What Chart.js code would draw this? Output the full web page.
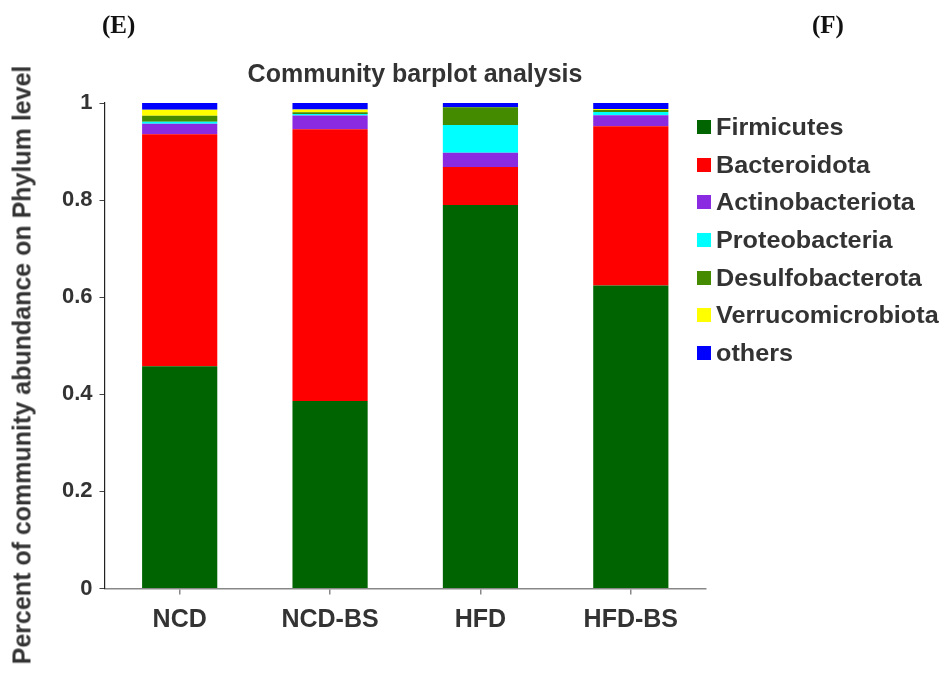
<!DOCTYPE html>
<html>
<head>
<meta charset="utf-8">
<script src="https://cdn.jsdelivr.net/npm/chart.js@4"></script>
<style>
  html, body { margin: 0; padding: 0; background: #fff; }
  #wrap { position: relative; width: 946px; height: 675px; overflow: hidden; }
  #c { position: absolute; left: 0; top: 0; }
  .panel { position: absolute; font-family: "Liberation Serif", "Times New Roman", serif; font-weight: bold; font-size: 25px; color: #111; line-height: 1; }
  #title { position: absolute; left: 415px; top: 73px; transform: translate(-50%, -50%); font-family: "Liberation Sans", Arial, sans-serif; font-weight: bold; font-size: 25px; color: #333; white-space: nowrap; }
  #ytitle { position: absolute; left: 22px; top: 365px; transform: translate(-50%, -50%) rotate(-90deg); font-family: "Liberation Sans", Arial, sans-serif; font-weight: bold; font-size: 25px; color: #333; white-space: nowrap; }
  .leg { position: absolute; left: 697px; height: 26px; display: flex; align-items: center; font-family: "Liberation Sans", Arial, sans-serif; font-weight: bold; font-size: 24px; color: #333; white-space: nowrap; transform: translateY(-50%); }
  .leg .sw { width: 14px; height: 14px; margin-right: 5px; flex: none; }
  .leg .tx { display: inline-block; transform: scaleX(1.05); transform-origin: left center; }
</style>
</head>
<body>
<div id="wrap">
  <canvas id="c" width="946" height="675"></canvas>
  <div class="panel" style="left:102px; top:12px;">(E)</div>
  <div class="panel" style="left:812px; top:12px;">(F)</div>
  <div id="title">Community barplot analysis</div>
  <div id="ytitle">Percent of community abundance on Phylum level</div>
</div>
<script>
// ---- data ----
const categories = ['NCD', 'NCD-BS', 'HFD', 'HFD-BS'];
const seriesNames = ['Firmicutes', 'Bacteroidota', 'Actinobacteriota', 'Proteobacteria', 'Desulfobacterota', 'Verrucomicrobiota', 'others'];
const firmicutes        = [0.458, 0.386, 0.790, 0.624];
const bacteroidota      = [0.4775, 0.560, 0.078, 0.328];
const actinobacteriota  = [0.022, 0.028, 0.0295, 0.0227];
const proteobacteria    = [0.004, 0.0033, 0.057, 0.0068];
const desulfobacterota  = [0.012, 0.0035, 0.037, 0.004];
const verrucomicrobiota = [0.0124, 0.006, 0.000, 0.002];
const others            = [0.014, 0.013, 0.0095, 0.0124];
const yTicks = [0, 0.2, 0.4, 0.6, 0.8, 1];
const yTickLabels = ['0', '0.2', '0.4', '0.6', '0.8', '1'];

const seriesValues = [firmicutes, bacteroidota, actinobacteriota, proteobacteria, desulfobacterota, verrucomicrobiota, others];
const seriesColors = ['#006400', '#FF0000', '#8A2BE2', '#00FFFF', '#458B00', '#FFFF00', '#0000FF'];

// ---- HTML legend ----
const legendY = [126.5, 164.5, 202, 240, 277.5, 315, 352.5];
const wrap = document.getElementById('wrap');
seriesNames.forEach((name, i) => {
  const d = document.createElement('div');
  d.className = 'leg';
  d.style.top = legendY[i] + 'px';
  const sw = document.createElement('span');
  sw.className = 'sw';
  sw.style.background = seriesColors[i];
  const t = document.createElement('span');
  t.className = 'tx';
  t.textContent = name;
  d.appendChild(sw); d.appendChild(t);
  wrap.appendChild(d);
});

const txt = '#333';
new Chart(document.getElementById('c'), {
  type: 'bar',
  data: {
    labels: categories,
    datasets: seriesNames.map((n, i) => ({
      label: n,
      data: seriesValues[i],
      backgroundColor: seriesColors[i],
      borderWidth: 0,
      categoryPercentage: 1.0,
      barPercentage: 0.5
    }))
  },
  options: {
    responsive: false,
    devicePixelRatio: 1,
    animation: false,
    layout: { padding: { left: 0, top: 103, right: 240, bottom: 0 } },
    plugins: { legend: { display: false }, title: { display: false }, tooltip: { enabled: false } },
    scales: {
      x: {
        stacked: true,
        afterFit: s => { s.height = 86.5; },
        border: { display: true, color: '#888', width: 1.5 },
        grid: { offset: false, drawOnChartArea: false, drawTicks: true, tickLength: 6, color: '#888', lineWidth: 1.5 },
        ticks: { color: txt, padding: 11, font: { family: 'Liberation Sans', weight: 'bold', size: 25 } }
      },
      y: {
        stacked: true,
        min: 0,
        max: 1,
        afterFit: s => { s.width = 104.5; },
        afterBuildTicks: s => { s.ticks = yTicks.map(v => ({ value: v })); },
        border: { display: true, color: '#222', width: 1.2 },
        grid: { drawOnChartArea: false, drawTicks: true, tickLength: 5, color: '#444', lineWidth: 1 },
        ticks: {
          color: txt, padding: 7, font: { family: 'Liberation Sans', weight: 'bold', size: 22 },
          callback: (v, i) => yTickLabels[i]
        }
      }
    }
  }
});
</script>
</body>
</html>
